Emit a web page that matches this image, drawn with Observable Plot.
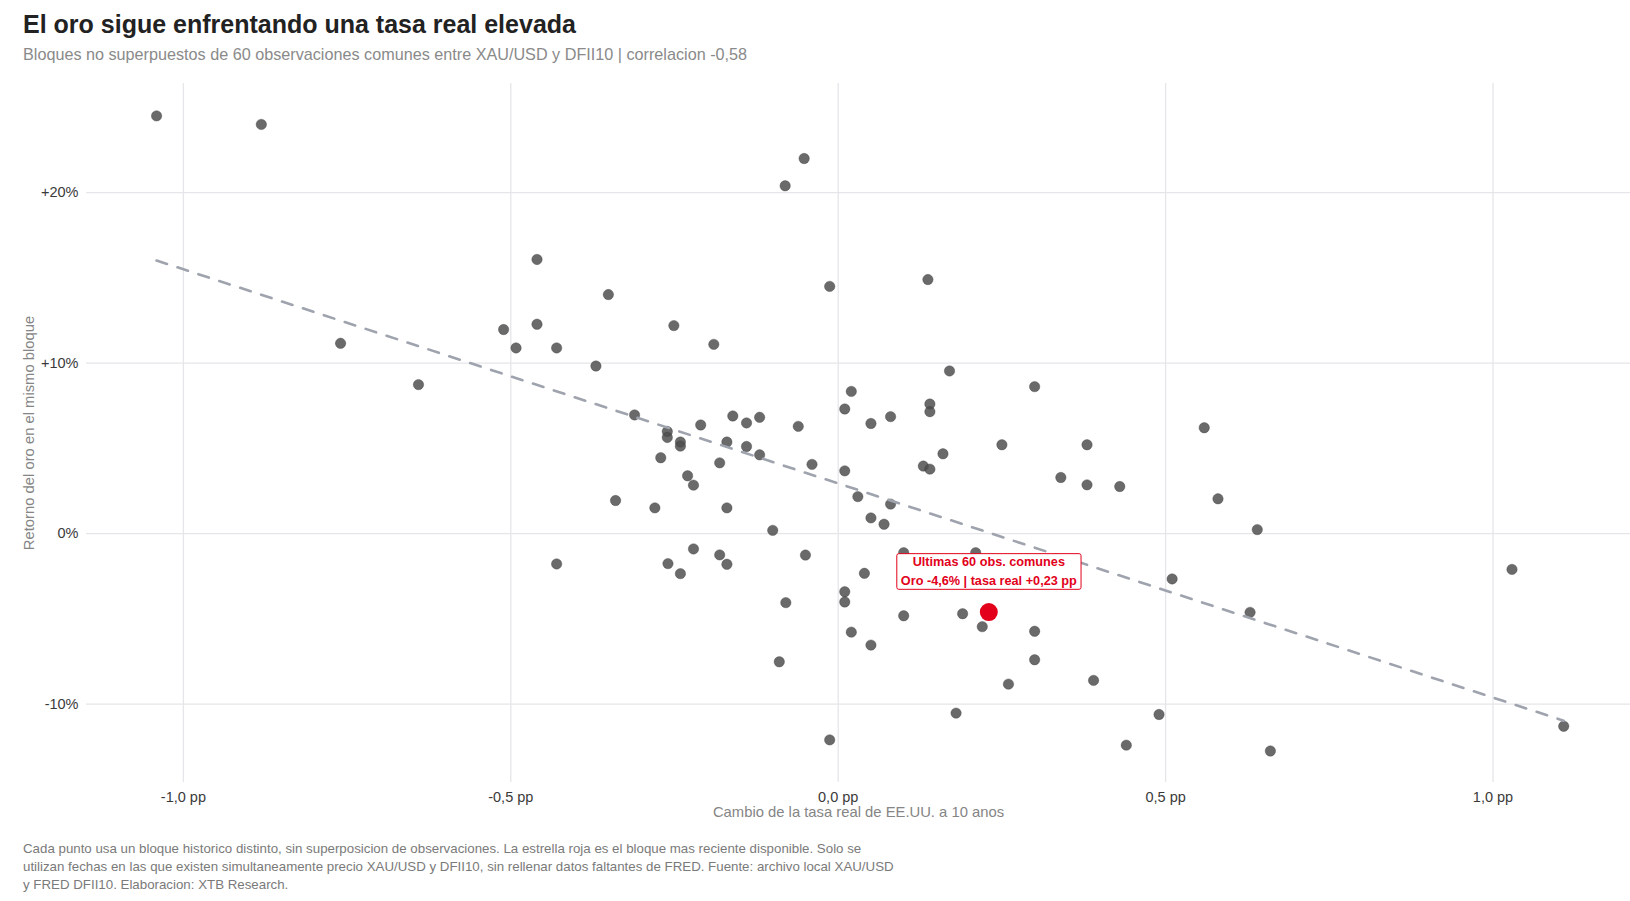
<!DOCTYPE html>
<html>
<head>
<meta charset="utf-8">
<script src="https://cdn.jsdelivr.net/npm/d3@7"></script>
<script src="https://cdn.jsdelivr.net/npm/@observablehq/plot@0.6"></script>
<style>
  body { margin: 0; background: #fff; font-family: "Liberation Sans", Arial, sans-serif; }
  #wrap { position: relative; width: 1630px; height: 901px; overflow: hidden; background: #fff; }
  #title { position: absolute; left: 23px; top: 9px; font-size: 25px; font-weight: bold; color: #222; line-height: 30px; white-space: nowrap; }
  #subtitle { position: absolute; left: 23px; top: 44px; font-size: 16.2px; color: #8a8a8a; line-height: 20px; white-space: nowrap; }
  #chart { position: absolute; left: 0; top: 70px; }
  #caption { position: absolute; left: 23px; top: 840px; font-size: 13.3px; color: #7a7a7a; line-height: 18.2px; white-space: nowrap; }
</style>
</head>
<body>
<div id="wrap">
  <div id="title">El oro sigue enfrentando una tasa real elevada</div>
  <div id="subtitle">Bloques no superpuestos de 60 observaciones comunes entre XAU/USD y DFII10 | correlacion -0,58</div>
  <div id="chart"></div>
  <div id="caption">Cada punto usa un bloque historico distinto, sin superposicion de observaciones. La estrella roja es el bloque mas reciente disponible. Solo se<br>utilizan fechas en las que existen simultaneamente precio XAU/USD y DFII10, sin rellenar datos faltantes de FRED. Fuente: archivo local XAU/USD<br>y FRED DFII10. Elaboracion: XTB Research.</div>
</div>
<script>
// Change in 10y US real rate per block (pp)
const rateChange = [
  -1.041, -0.881, -0.760, -0.641, -0.511, -0.492, -0.460, -0.460, -0.430, -0.430,
  -0.370, -0.351, -0.340, -0.311, -0.280, -0.271, -0.261, -0.261, -0.260, -0.241,
  -0.241, -0.241, -0.251, -0.230, -0.221, -0.221, -0.210, -0.190, -0.181, -0.181,
  -0.170, -0.170, -0.170, -0.161, -0.140, -0.140, -0.120, -0.120, -0.100, -0.090,
  -0.080, -0.081, -0.061, -0.052, -0.050, -0.040, -0.013, -0.013, 0.010, 0.010,
  0.010, 0.010, 0.020, 0.020, 0.030, 0.040, 0.050, 0.050, 0.050, 0.070,
  0.080, 0.080, 0.100, 0.100, 0.130, 0.137, 0.140, 0.140, 0.140, 0.160,
  0.170, 0.180, 0.190, 0.210, 0.220, 0.250, 0.260, 0.300, 0.300, 0.300,
  0.340, 0.380, 0.380, 0.390, 0.430, 0.440, 0.490, 0.510, 0.559, 0.580,
  0.629, 0.640, 0.660, 1.029, 1.108
];
// Gold return in the same block (%)
const goldReturn = [
  24.5, 24.0, 11.16, 8.74, 11.97, 10.89, 16.08, 12.28, 10.89, -1.78,
  9.83, 14.02, 1.94, 6.96, 1.51, 4.45, 5.99, 5.64, -1.76, 5.37,
  5.13, -2.35, 12.2, 3.39, 2.84, -0.90, 6.37, 11.1, 4.15, -1.25,
  5.37, 1.51, -1.80, 6.90, 6.49, 5.11, 6.82, 4.62, 0.19, -7.52,
  -4.05, 20.4, 6.29, 22.0, -1.26, 4.06, 14.5, -12.1, 7.31, 3.68,
  -3.41, -4.01, 8.34, -5.78, 2.17, -2.33, 6.46, 0.92, -6.54, 0.55,
  6.86, 1.73, -4.82, -1.12, 3.96, 14.9, 7.60, 7.15, 3.78, 4.68,
  9.54, -10.53, -4.70, -1.12, -5.46, 5.21, -8.83, 8.62, -5.73, -7.40,
  3.29, 5.21, 2.86, -8.61, 2.76, -12.41, -10.61, -2.66, 6.21, 2.04,
  -4.62, 0.235, -12.75, -2.1, -11.3
];
// Latest block
const latestRate = [0.23];
const latestGold = [-4.6];
const latestLabel = ["Ultimas 60 obs. comunes\nOro -4,6% | tasa real +0,23 pp"];

const xTicks = [-1.0, -0.5, 0.0, 0.5, 1.0];
const xTickLabels = ["-1,0 pp", "-0,5 pp", "0,0 pp", "0,5 pp", "1,0 pp"];
const yTicks = [-10, 0, 10, 20];
const yTickLabels = ["-10%", "0%", "+10%", "+20%"];

const xTitle = "Cambio de la tasa real de EE.UU. a 10 anos";
const yTitle = "Retorno del oro en el mismo bloque";

const points = rateChange.map((x, i) => ({x, y: goldReturn[i]}));
const allPoints = points.concat(latestRate.map((x, i) => ({x, y: latestGold[i]})));
const latest = latestRate.map((x, i) => ({x, y: latestGold[i], label: latestLabel[i]}));

const RED = "#e2001a";
const FONT = "Liberation Sans, Arial, sans-serif";

const chart = Plot.plot({
  width: 1630,
  height: 755,
  marginLeft: 86,
  marginRight: 0,
  marginTop: 13,
  marginBottom: 43,
  style: {fontFamily: FONT, fontSize: "14.5px", color: "#3a3a3a", background: "white"},
  x: {domain: [-1.148, 1.210]},
  y: {domain: [-14.6, 26.4]},
  marks: [
    Plot.gridX(xTicks, {stroke: "#e6e6ea", strokeOpacity: 1, strokeWidth: 1.3}),
    Plot.gridY(yTicks, {stroke: "#e6e6ea", strokeOpacity: 1, strokeWidth: 1.3}),
    Plot.axisX(xTicks, {tickFormat: d => xTickLabels[xTicks.indexOf(d)], tickSize: 0, tickPadding: 9, label: null, fontSize: 14.5, fill: "#3a3a3a"}),
    Plot.axisY(yTicks, {tickFormat: d => yTickLabels[yTicks.indexOf(d)], tickSize: 0, tickPadding: 8, label: null, fontSize: 14.5, fill: "#3a3a3a"}),
    Plot.dot(points, {x: "x", y: "y", r: 5.2, fill: "#4d4d4d", fillOpacity: 0.84, stroke: "#333", strokeOpacity: 0.5, strokeWidth: 0.7}),
    Plot.linearRegressionY(allPoints, {x: "x", y: "y", ci: 0, stroke: "#9ea3ae", strokeWidth: 2.6, strokeDasharray: "11,11"}),
    Plot.dot(latest, {x: "x", y: "y", r: 9, fill: RED}),
    Plot.text(latest, {x: "x", y: "y", text: "label", dy: -42.5, lineAnchor: "middle", lineHeight: 1.47, fontSize: 12.7, fontWeight: "bold", fill: RED}),
    Plot.text([xTitle], {text: d => d, frameAnchor: "bottom", dy: 30, textAnchor: "middle", lineAnchor: "middle", fontSize: 14.8, fill: "#858585"}),
    Plot.text([yTitle], {text: d => d, frameAnchor: "left", rotate: -90, dx: -57, textAnchor: "middle", lineAnchor: "middle", fontSize: 14.8, fill: "#858585"})
  ]
});

document.getElementById("chart").append(chart);

// white box with red border behind the latest-block label
const labelText = Array.from(chart.querySelectorAll("text")).find(t => t.textContent.includes(latestLabel[0].split("\n")[0]));
if (labelText) {
  const lg = labelText.parentNode;
  const bb = lg.getBBox();
  const rect = document.createElementNS("http://www.w3.org/2000/svg", "rect");
  rect.setAttribute("x", bb.x - 4);
  rect.setAttribute("y", bb.y - 1.5);
  rect.setAttribute("width", bb.width + 8);
  rect.setAttribute("height", bb.height + 3);
  rect.setAttribute("rx", 2);
  rect.setAttribute("fill", "white");
  rect.setAttribute("stroke", RED);
  rect.setAttribute("stroke-width", 1);
  lg.insertBefore(rect, lg.firstChild);
}
</script>
</body>
</html>
